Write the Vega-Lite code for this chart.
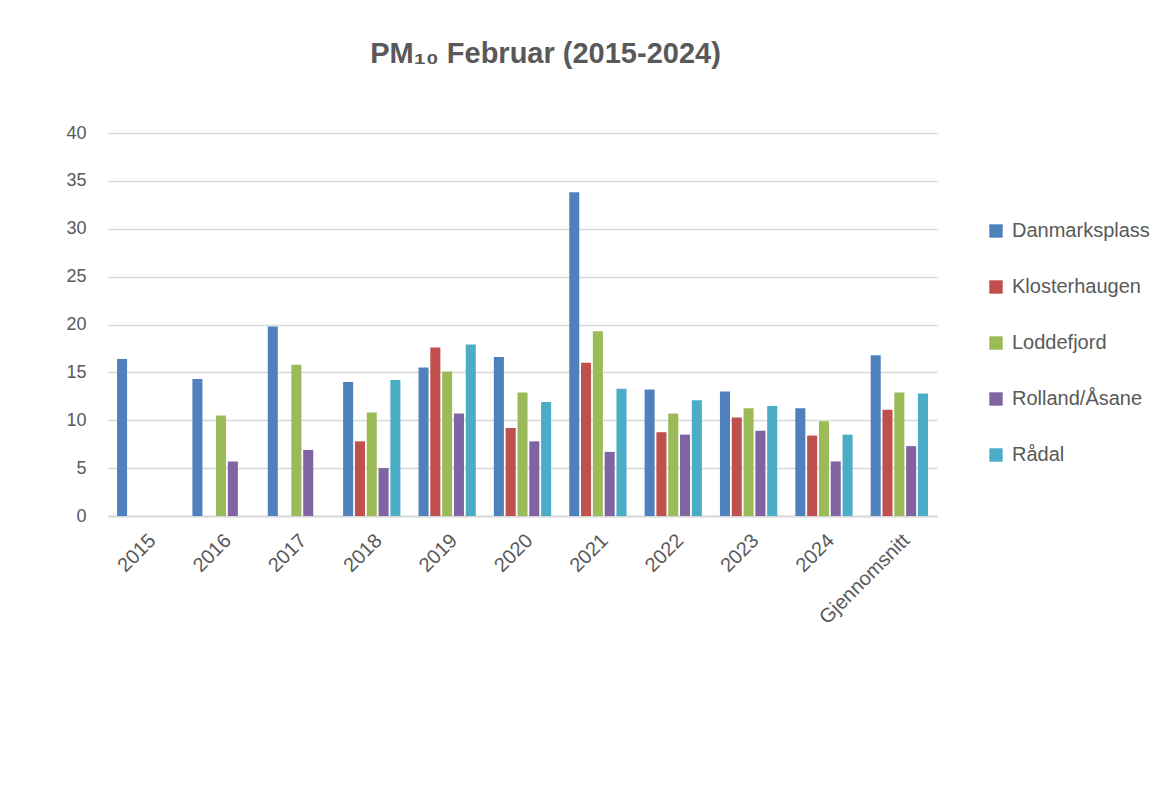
{
  "$schema": "https://vega.github.io/schema/vega-lite/v6.json",
  "width": 829,
  "height": 383,
  "autosize": {"type": "none"},
  "padding": {"left": 108, "top": 133, "right": 236, "bottom": 282},
  "background": "white",
  "title": {
    "text": "PM₁₀ Februar (2015-2024)",
    "font": "Liberation Sans",
    "fontSize": 29,
    "fontWeight": "bold",
    "color": "#595959",
    "anchor": "middle",
    "frame": "group",
    "dx": 23,
    "offset": 55
  },
  "data": {
    "values": [
      {"kategori": "2015", "stasjon": "Danmarksplass", "verdi": 16.4},
      {"kategori": "2016", "stasjon": "Danmarksplass", "verdi": 14.3},
      {"kategori": "2016", "stasjon": "Loddefjord", "verdi": 10.5},
      {"kategori": "2016", "stasjon": "Rolland/Åsane", "verdi": 5.7},
      {"kategori": "2017", "stasjon": "Danmarksplass", "verdi": 19.8},
      {"kategori": "2017", "stasjon": "Loddefjord", "verdi": 15.8},
      {"kategori": "2017", "stasjon": "Rolland/Åsane", "verdi": 6.9},
      {"kategori": "2018", "stasjon": "Danmarksplass", "verdi": 14.0},
      {"kategori": "2018", "stasjon": "Klosterhaugen", "verdi": 7.8},
      {"kategori": "2018", "stasjon": "Loddefjord", "verdi": 10.8},
      {"kategori": "2018", "stasjon": "Rolland/Åsane", "verdi": 5.0},
      {"kategori": "2018", "stasjon": "Rådal", "verdi": 14.2},
      {"kategori": "2019", "stasjon": "Danmarksplass", "verdi": 15.5},
      {"kategori": "2019", "stasjon": "Klosterhaugen", "verdi": 17.6},
      {"kategori": "2019", "stasjon": "Loddefjord", "verdi": 15.1},
      {"kategori": "2019", "stasjon": "Rolland/Åsane", "verdi": 10.7},
      {"kategori": "2019", "stasjon": "Rådal", "verdi": 17.9},
      {"kategori": "2020", "stasjon": "Danmarksplass", "verdi": 16.6},
      {"kategori": "2020", "stasjon": "Klosterhaugen", "verdi": 9.2},
      {"kategori": "2020", "stasjon": "Loddefjord", "verdi": 12.9},
      {"kategori": "2020", "stasjon": "Rolland/Åsane", "verdi": 7.8},
      {"kategori": "2020", "stasjon": "Rådal", "verdi": 11.9},
      {"kategori": "2021", "stasjon": "Danmarksplass", "verdi": 33.8},
      {"kategori": "2021", "stasjon": "Klosterhaugen", "verdi": 16.0},
      {"kategori": "2021", "stasjon": "Loddefjord", "verdi": 19.3},
      {"kategori": "2021", "stasjon": "Rolland/Åsane", "verdi": 6.7},
      {"kategori": "2021", "stasjon": "Rådal", "verdi": 13.3},
      {"kategori": "2022", "stasjon": "Danmarksplass", "verdi": 13.2},
      {"kategori": "2022", "stasjon": "Klosterhaugen", "verdi": 8.75},
      {"kategori": "2022", "stasjon": "Loddefjord", "verdi": 10.7},
      {"kategori": "2022", "stasjon": "Rolland/Åsane", "verdi": 8.5},
      {"kategori": "2022", "stasjon": "Rådal", "verdi": 12.1},
      {"kategori": "2023", "stasjon": "Danmarksplass", "verdi": 13.0},
      {"kategori": "2023", "stasjon": "Klosterhaugen", "verdi": 10.3},
      {"kategori": "2023", "stasjon": "Loddefjord", "verdi": 11.25},
      {"kategori": "2023", "stasjon": "Rolland/Åsane", "verdi": 8.9},
      {"kategori": "2023", "stasjon": "Rådal", "verdi": 11.5},
      {"kategori": "2024", "stasjon": "Danmarksplass", "verdi": 11.25},
      {"kategori": "2024", "stasjon": "Klosterhaugen", "verdi": 8.4},
      {"kategori": "2024", "stasjon": "Loddefjord", "verdi": 9.9},
      {"kategori": "2024", "stasjon": "Rolland/Åsane", "verdi": 5.7},
      {"kategori": "2024", "stasjon": "Rådal", "verdi": 8.5},
      {"kategori": "Gjennomsnitt", "stasjon": "Danmarksplass", "verdi": 16.8},
      {"kategori": "Gjennomsnitt", "stasjon": "Klosterhaugen", "verdi": 11.1},
      {"kategori": "Gjennomsnitt", "stasjon": "Loddefjord", "verdi": 12.9},
      {"kategori": "Gjennomsnitt", "stasjon": "Rolland/Åsane", "verdi": 7.3},
      {"kategori": "Gjennomsnitt", "stasjon": "Rådal", "verdi": 12.8}
    ]
  },
  "mark": {"type": "bar"},
  "encoding": {
    "x": {
      "field": "kategori",
      "type": "nominal",
      "sort": ["2015","2016","2017","2018","2019","2020","2021","2022","2023","2024","Gjennomsnitt"],
      "scale": {"paddingInner": 0.24, "paddingOuter": 0.12},
      "axis": {
        "title": null,
        "labelAngle": -45,
        "labelAlign": "right",
        "labelBaseline": "top",
        "labelFont": "Liberation Sans",
        "labelFontSize": 20,
        "labelColor": "#595959",
        "labelPadding": 14,
        "ticks": false,
        "domainColor": "#d9d9d9",
        "domainWidth": 2,
        "grid": false
      }
    },
    "xOffset": {
      "field": "stasjon",
      "type": "nominal",
      "sort": ["Danmarksplass","Klosterhaugen","Loddefjord","Rolland/Åsane","Rådal"],
      "scale": {"domain": ["Danmarksplass","Klosterhaugen","Loddefjord","Rolland/Åsane","Rådal"], "paddingInner": 0.15}
    },
    "y": {
      "field": "verdi",
      "type": "quantitative",
      "scale": {"domain": [0, 40]},
      "axis": {
        "title": null,
        "values": [0,5,10,15,20,25,30,35,40],
        "labelFont": "Liberation Sans",
        "labelFontSize": 18,
        "labelColor": "#595959",
        "labelPadding": 22,
        "ticks": false,
        "domain": false,
        "gridColor": "#d9d9d9",
        "gridWidth": 1.5
      }
    },
    "color": {
      "field": "stasjon",
      "type": "nominal",
      "scale": {
        "domain": ["Danmarksplass","Klosterhaugen","Loddefjord","Rolland/Åsane","Rådal"],
        "range": ["#4F81BD","#C0504D","#9BBB59","#8064A2","#4BACC6"]
      },
      "legend": {
        "title": null,
        "orient": "none",
        "legendX": 878,
        "legendY": 88,
        "symbolType": "square",
        "symbolSize": 180,
        "symbolStrokeWidth": 0,
        "labelFont": "Liberation Sans",
        "labelFontSize": 20,
        "labelColor": "#595959",
        "labelOffset": 6,
        "rowPadding": 36
      }
    }
  },
  "config": {"view": {"stroke": null}}
}
